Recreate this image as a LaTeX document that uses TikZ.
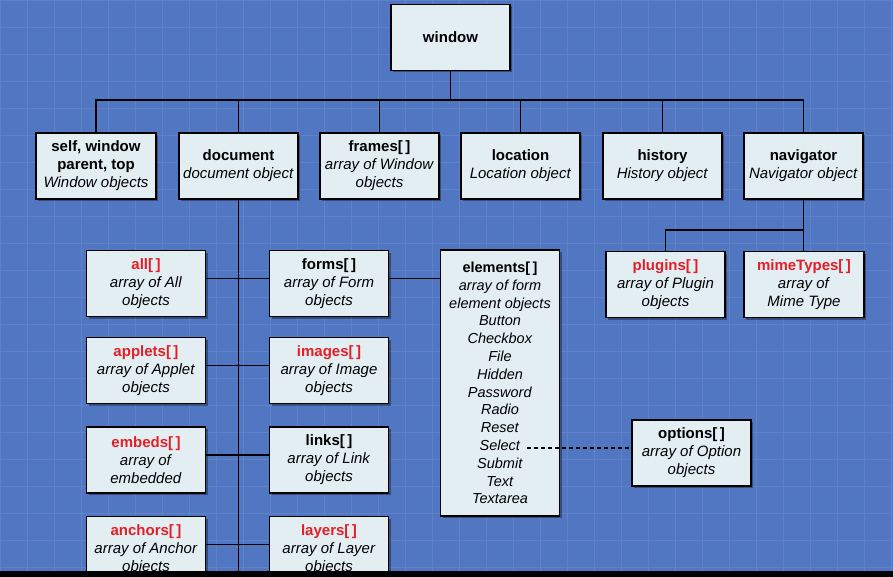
\documentclass[tikz,border=0pt]{standalone}
\usepackage{fontspec}
\setmainfont{Liberation Sans}
\usetikzlibrary{shadows}
\definecolor{bg}{RGB}{81,118,194}
\definecolor{boxfill}{RGB}{226,238,242}
\definecolor{redt}{RGB}{228,30,38}
\begin{document}
\begin{tikzpicture}[x=1pt,y=-1pt,
  box/.style={draw=black, line width=1.9pt, fill=boxfill, align=center, inner sep=0pt,
    minimum width=119pt, minimum height=66pt,
    font=\fontsize{15}{18}\selectfont,
    drop shadow={shadow xshift=2pt, shadow yshift=-2pt, opacity=0.35, fill=black}},
  conn/.style={draw=black, line width=1.8pt},
  ttl/.style={font=\bfseries},
  hot/.style={text=redt}]
\clip (0,0) rectangle (893,577);
\useasboundingbox (0,0) rectangle (893,577);
\fill[bg] (0,0) rectangle (893,577);
\draw[white, opacity=0.09, line width=0.8pt, step=27pt] (0,0) grid (893,577);

% top level
\node[box] (window) at (450.5,37.5) {\textbf{window}};
\coordinate (bus) at (450.5,100);

\node[box,minimum width=120pt] (self) at (96,166) {\textbf{self, window}\\\textbf{parent, top}\\\textit{Window objects}};
\node[box] (document) at (238.5,166) {\textbf{document}\\\textit{document object}};
\node[box] (frames) at (379.5,166) {\textbf{frames[\,]}\\\textit{array of Window}\\\textit{objects}};
\node[box] (location) at (520.5,166) {\textbf{location}\\\textit{Location object}};
\node[box] (history) at (662.5,166) {\textbf{history}\\\textit{History object}};
\node[box] (navigator) at (803.5,166) {\textbf{navigator}\\\textit{Navigator object}};

\draw[conn] (window.south) -- (bus);
\draw[conn] (self.north) -- (self.north |- bus) -- (navigator.north |- bus) -- (navigator.north);
\draw[conn] (document.north) -- (document.north |- bus);
\draw[conn] (frames.north) -- (frames.north |- bus);
\draw[conn] (location.north) -- (location.north |- bus);
\draw[conn] (history.north) -- (history.north |- bus);

% document children
\node[box] (all) at (146,283.5) {\textbf{\color{redt}all[\,]}\\\textit{array of All}\\\textit{objects}};
\node[box] (forms) at (329,283.5) {\textbf{forms[\,]}\\\textit{array of Form}\\\textit{objects}};
\node[box] (applets) at (146,370.5) {\textbf{\color{redt}applets[\,]}\\\textit{array of Applet}\\\textit{objects}};
\node[box] (images) at (329,370.5) {\textbf{\color{redt}images[\,]}\\\textit{array of Image}\\\textit{objects}};
\node[box] (embeds) at (146,460) {\textbf{\color{redt}embeds[\,]}\\\textit{array of}\\\textit{embedded}};
\node[box] (links) at (329,460) {\textbf{links[\,]}\\\textit{array of Link}\\\textit{objects}};
\node[box] (anchors) at (146,549.5) {\textbf{\color{redt}anchors[\,]}\\\textit{array of Anchor}\\\textit{objects}};
\node[box] (layers) at (329,549.5) {\textbf{\color{redt}layers[\,]}\\\textit{array of Layer}\\\textit{objects}};

\coordinate (trunkend) at (238.5,600);
\draw[conn] (document.south) -- (trunkend);
\draw[conn] ([yshift=5pt]all.east) -- ([yshift=5pt]forms.west);
\draw[conn] ([yshift=5pt]applets.east) -- ([yshift=5pt]images.west);
\draw[conn] ([yshift=5pt]embeds.east) -- ([yshift=5pt]links.west);
\draw[conn] ([yshift=5pt]anchors.east) -- ([yshift=5pt]layers.west);

% elements
\node[box, minimum height=266pt, font=\fontsize{14.5}{17.8}\selectfont] (elements) at (500,383)
 {\textbf{elements[\,]}\\\textit{array of form}\\\textit{element objects}\\\textit{Button}\\\textit{Checkbox}\\\textit{File}\\\textit{Hidden}\\\textit{Password}\\\textit{Radio}\\\textit{Reset}\\\textit{Select}\\\textit{Submit}\\\textit{Text}\\\textit{Textarea}};
\draw[conn] ([yshift=5pt]forms.east) -- ([yshift=5pt]forms.east -| elements.west);

\node[box] (options) at (691.5,453) {\textbf{options[\,]}\\\textit{array of Option}\\\textit{objects}};
\coordinate (sel) at (527,448);
\draw[conn, line width=1.5pt, dash pattern=on 4pt off 3pt] (sel) -- (options.west |- sel);

% navigator children
\node[box] (plugins) at (665.5,284.5) {\textbf{\color{redt}plugins[\,]}\\\textit{array of Plugin}\\\textit{objects}};
\node[box,minimum width=120pt] (mime) at (804,284.5) {\textbf{\color{redt}mimeTypes[\,]}\\\textit{array of}\\\textit{Mime Type}};
\coordinate (navbus) at (803.5,230);
\draw[conn] (navigator.south) -- (navbus) -| (plugins.north);
\draw[conn] (navbus) -- (navbus |- mime.north);

\fill[black] (0,571) rectangle (893,577);
\end{tikzpicture}
\end{document}
